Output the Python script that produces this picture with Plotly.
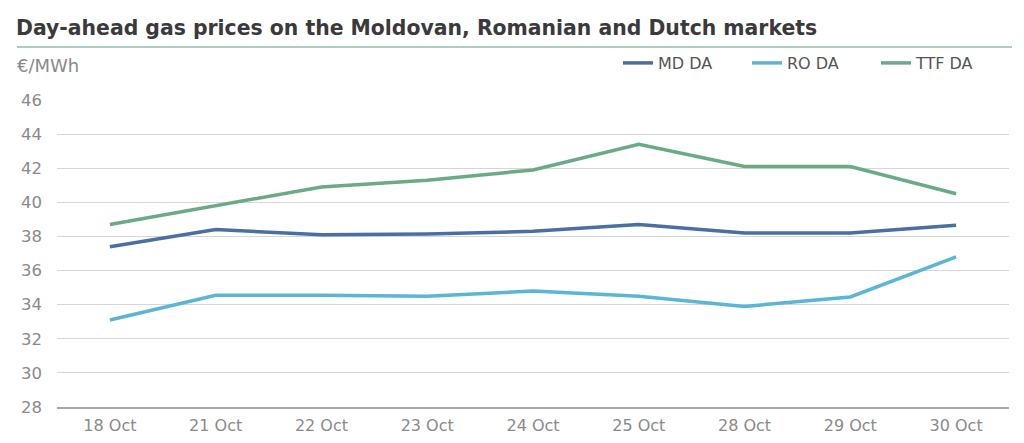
import plotly.graph_objects as go

dates = ["18 Oct", "21 Oct", "22 Oct", "23 Oct", "24 Oct", "25 Oct", "28 Oct", "29 Oct", "30 Oct"]
md_da = [37.4, 38.4, 38.1, 38.15, 38.3, 38.7, 38.2, 38.2, 38.65]
ro_da = [33.1, 34.55, 34.55, 34.5, 34.8, 34.5, 33.9, 34.45, 36.8]
ttf_da = [38.7, 39.8, 40.9, 41.3, 41.9, 43.4, 42.1, 42.1, 40.5]
y_ticks = [28, 30, 32, 34, 36, 38, 40, 42, 44, 46]

# page offset of the figure (body margin)
OFF = 8
W, H = 1008, 427
# plot area in page pixels: x 57..1009, y 100..407
L, R = 57 - OFF, W - (1009 - OFF)
T, B = 100 - OFF, H - (407 - OFF)
FONT = "DejaVu Sans"

def px(x):
    return (x - 57) / 952

def py(y):
    return (407 - y) / 307

fig = go.Figure()
for name, vals, col in [("MD DA", md_da, "#4a6fa5"), ("RO DA", ro_da, "#5bb5d5"), ("TTF DA", ttf_da, "#6aaa86")]:
    fig.add_trace(go.Scatter(x=dates, y=vals, name=name, mode="lines",
                             line=dict(color=col, width=3.5)))

fig.update_layout(
    width=W, height=H,
    margin=dict(l=L, r=R, t=T, b=B, autoexpand=False),
    paper_bgcolor="white", plot_bgcolor="white",
    font=dict(family=FONT, color="#8a8a8a", size=16),
    title=dict(text="Day-ahead gas prices on the Moldovan, Romanian and Dutch markets",
               xref="container", yref="container", x=(16 - OFF) / W, y=1 - (28 - OFF) / H,
               xanchor="left", yanchor="middle",
               font=dict(family=FONT, size=20.4, color="#3a3a3a", weight="bold")),
    legend=dict(orientation="h", xanchor="left", x=px(618), yanchor="middle", y=py(63),
                font=dict(size=16, color="#555555"), bgcolor="rgba(0,0,0,0)",
                entrywidth=84, entrywidthmode="pixels", tracegroupgap=0),
    showlegend=True,
)
fig.update_xaxes(type="category", range=[-0.5, 8.5], showgrid=False,
                 showline=True, linecolor="#a8a8a8", linewidth=2,
                 ticks="", tickfont=dict(size=16, color="#8a8a8a"), ticklabelstandoff=3)
fig.update_yaxes(range=[28, 46], tickvals=y_ticks, showgrid=True, gridcolor="#d6d6d6",
                 gridwidth=1, zeroline=False, showline=False, ticks="",
                 tickfont=dict(size=16.5, color="#8a8a8a"), ticklabelstandoff=14)

fig.add_shape(type="line", xref="paper", yref="paper", x0=px(17), x1=px(1012),
              y0=py(47), y1=py(47), line=dict(color="#a9cfc0", width=2))
fig.add_annotation(text="€/MWh", xref="paper", yref="paper", x=px(15), y=py(66),
                   xanchor="left", yanchor="middle", showarrow=False,
                   font=dict(size=18, color="#8a8a8a"))

fig.write_html("out.html")
